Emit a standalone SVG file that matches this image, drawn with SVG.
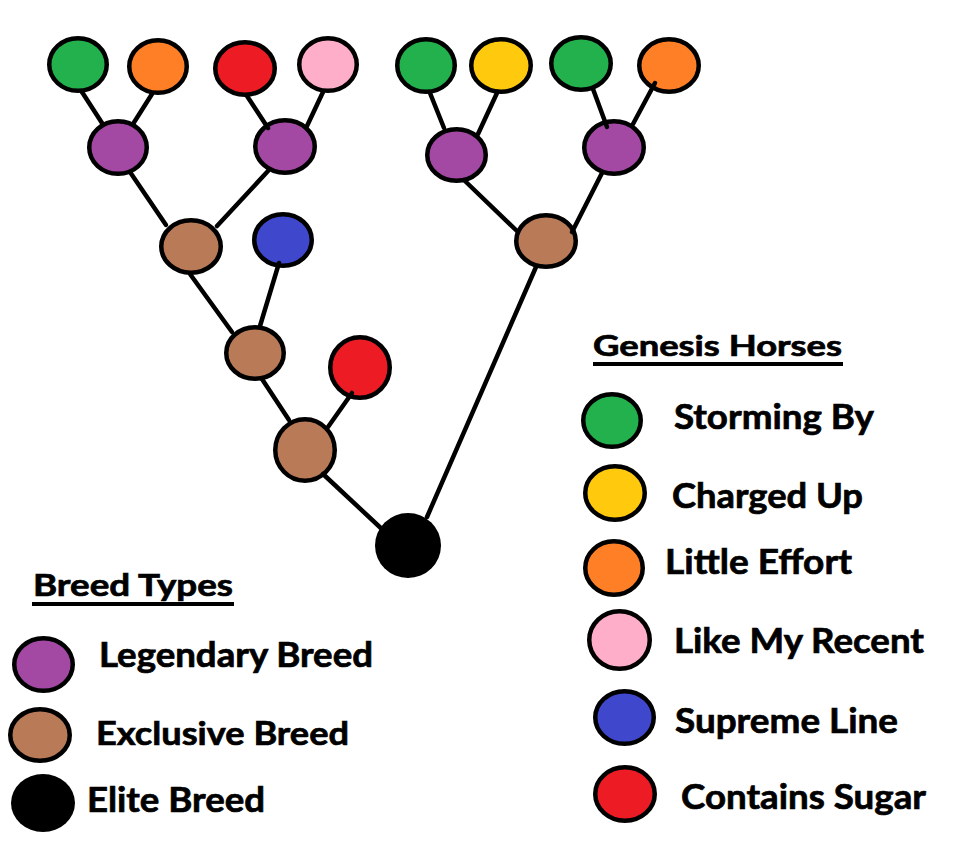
<svg xmlns="http://www.w3.org/2000/svg" width="953" height="850" viewBox="0 0 953 850">
<style>
.n{stroke:#000;stroke-width:4.5}
.g{fill:#22B14C}.o{fill:#FF7F27}.r{fill:#ED1C24}.p{fill:#FFAEC9}
.u{fill:#A349A4}.b{fill:#B97A57}.l{fill:#3F48CC}.y{fill:#FFC90E}.k{fill:#000}
.c line{stroke:#000;stroke-width:4.5;stroke-linecap:round}
text{font-family:Lato,"Open Sans","Liberation Sans",sans-serif;font-weight:bold;fill:#000;stroke:#000;stroke-width:0.7}
.t{font-size:35px}
.h{font-size:29px}
</style>
<rect width="953" height="850" fill="#fff"/>
<g id="tree-nodes">
<g id="n-g1"><ellipse class="n g" cx="78" cy="64.5" rx="28.75" ry="26.25"/></g>
<g id="n-o1"><ellipse class="n o" cx="158" cy="66.5" rx="28.75" ry="26.25"/></g>
<g id="n-r1"><ellipse class="n r" cx="245" cy="68.5" rx="29.75" ry="26.25"/></g>
<g id="n-p1"><ellipse class="n p" cx="328" cy="64.5" rx="28.75" ry="26.25"/></g>
<g id="n-pu1"><ellipse class="n u" cx="118" cy="147.5" rx="28.75" ry="26.25"/></g>
<g id="n-pu2"><ellipse class="n u" cx="285" cy="146.5" rx="29.75" ry="26.25"/></g>
<g id="n-br1"><ellipse class="n b" cx="191" cy="246.5" rx="29.75" ry="26.25"/></g>
<g id="n-bl"><ellipse class="n l" cx="283" cy="240" rx="28.75" ry="25.75"/></g>
<g id="n-br2"><ellipse class="n b" cx="255" cy="353" rx="28.75" ry="25.75"/></g>
<g id="n-r2"><ellipse class="n r" cx="360" cy="367.5" rx="29.75" ry="30.25"/></g>
<g id="n-br3"><ellipse class="n b" cx="305" cy="450" rx="29.75" ry="30.75"/></g>
<g id="n-elite"><ellipse class="k" cx="408" cy="545.5" rx="33" ry="32.5"/></g>
<g id="n-g2"><ellipse class="n g" cx="426" cy="65.5" rx="28.75" ry="26.25"/></g>
<g id="n-y"><ellipse class="n y" cx="501" cy="65.5" rx="29.75" ry="26.25"/></g>
<g id="n-g3"><ellipse class="n g" cx="581" cy="63.5" rx="29.75" ry="26.25"/></g>
<g id="n-o2"><ellipse class="n o" cx="669" cy="65.5" rx="29.75" ry="26.25"/></g>
<g id="n-pu3"><ellipse class="n u" cx="456.5" cy="155" rx="29.25" ry="25.75"/></g>
<g id="n-pu4"><ellipse class="n u" cx="614" cy="147.5" rx="29.75" ry="26.25"/></g>
<g id="n-br4"><ellipse class="n b" cx="546" cy="241" rx="29.75" ry="25.75"/></g>
</g>
<g id="connectors" class="c">
<line x1="82" y1="92" x2="102" y2="123"/>
<line x1="152" y1="94" x2="133" y2="124"/>
<line x1="247" y1="96" x2="268" y2="128"/>
<line x1="323" y1="92" x2="307" y2="126"/>
<line x1="130" y1="172" x2="166" y2="225"/>
<line x1="268" y1="171" x2="217" y2="226"/>
<line x1="190" y1="274" x2="232" y2="332"/>
<line x1="279" y1="263" x2="260" y2="326"/>
<line x1="262" y1="379" x2="289" y2="420"/>
<line x1="352" y1="393" x2="328" y2="427"/>
<line x1="323" y1="474" x2="384" y2="531"/>
<line x1="427" y1="517" x2="536" y2="267"/>
<line x1="430" y1="93" x2="444" y2="128"/>
<line x1="497" y1="93" x2="478" y2="134"/>
<line x1="593" y1="89" x2="607" y2="127"/>
<line x1="655" y1="83" x2="633" y2="124"/>
<line x1="465" y1="181" x2="518" y2="232"/>
<line x1="602" y1="173" x2="572" y2="232"/>
</g>
<g id="legend-genesis">
<text class="h" x="593" y="356" textLength="249" lengthAdjust="spacingAndGlyphs">Genesis Horses</text>
<rect x="593" y="362" width="250" height="4"/>
<g id="lg-storming"><ellipse class="n g" cx="612" cy="420.5" rx="28.75" ry="26.25"/><text class="t" x="674" y="429" textLength="200" lengthAdjust="spacingAndGlyphs">Storming By</text></g>
<g id="lg-charged"><ellipse class="n y" cx="615" cy="493" rx="29.75" ry="26.75"/><text class="t" x="672" y="508" textLength="191" lengthAdjust="spacingAndGlyphs">Charged Up</text></g>
<g id="lg-little"><ellipse class="n o" cx="614" cy="568" rx="28.75" ry="26.75"/><text class="t" x="665" y="574" textLength="187" lengthAdjust="spacingAndGlyphs">Little Effort</text></g>
<g id="lg-like"><ellipse class="n p" cx="619.5" cy="640" rx="30.25" ry="28.75"/><text class="t" x="674" y="653" textLength="250" lengthAdjust="spacingAndGlyphs">Like My Recent</text></g>
<g id="lg-supreme"><ellipse class="n l" cx="624.5" cy="717.5" rx="29.25" ry="26.25"/><text class="t" x="675" y="733" textLength="223" lengthAdjust="spacingAndGlyphs">Supreme Line</text></g>
<g id="lg-contains"><ellipse class="n r" cx="625" cy="794" rx="29.75" ry="26.75"/><text class="t" x="681" y="809" textLength="245" lengthAdjust="spacingAndGlyphs">Contains Sugar</text></g>
</g>
<g id="legend-breed">
<text class="h" x="33" y="596" style="font-size:31px" textLength="200" lengthAdjust="spacingAndGlyphs">Breed Types</text>
<rect x="32" y="602" width="202" height="4"/>
<g id="lg-legendary"><ellipse class="n u" cx="43.5" cy="664.5" rx="29.25" ry="26.25"/><text class="t" x="99" y="667" style="font-size:34px" textLength="274" lengthAdjust="spacingAndGlyphs">Legendary Breed</text></g>
<g id="lg-exclusive"><ellipse class="n b" cx="40" cy="735" rx="29.75" ry="25.75"/><text class="t" x="96" y="745" style="font-size:33px" textLength="253" lengthAdjust="spacingAndGlyphs">Exclusive Breed</text></g>
<g id="lg-elite"><ellipse class="k" cx="43" cy="803" rx="32" ry="29"/><text class="t" x="87" y="812" textLength="178" lengthAdjust="spacingAndGlyphs">Elite Breed</text></g>
</g>
</svg>
